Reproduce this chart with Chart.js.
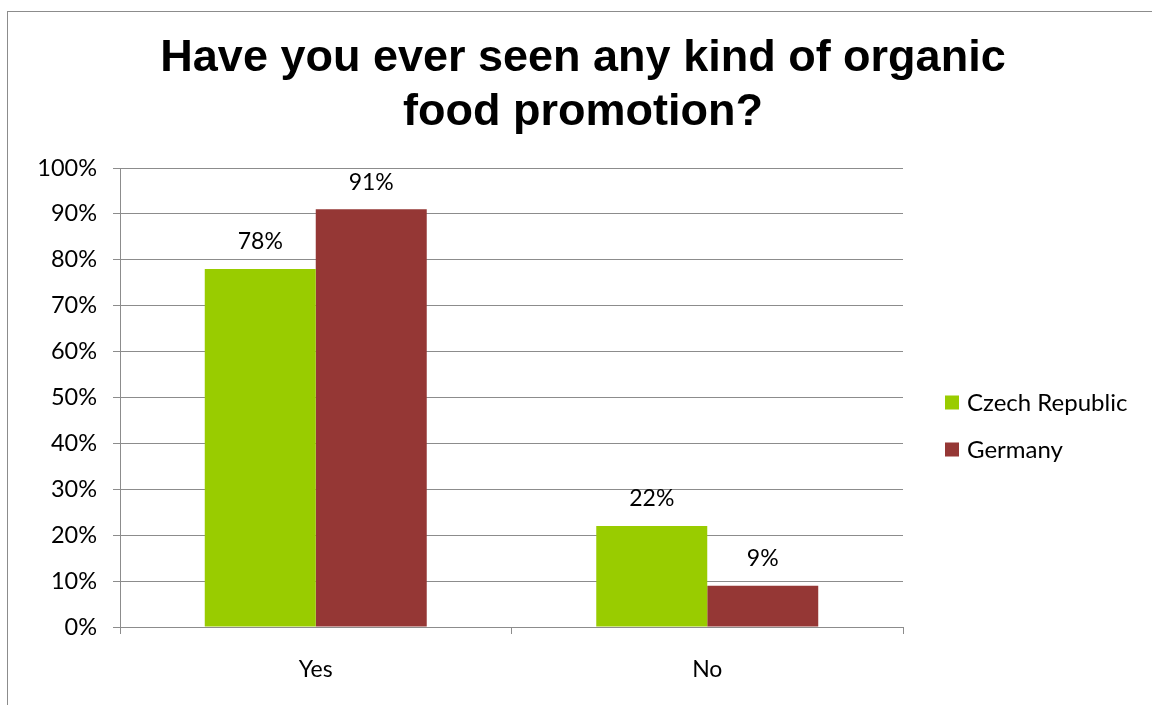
<!DOCTYPE html>
<html>
<head>
<meta charset="utf-8">
<script src="https://cdn.jsdelivr.net/npm/chart.js@4.4.1/dist/chart.umd.min.js"></script>
<style>
  html, body { margin: 0; padding: 0; background: #fff; overflow: hidden; width: 1152px; height: 705px; }
  #frame {
    position: absolute; left: 7px; top: 11px;
    width: 1160px; height: 710px;
    border: 1px solid #8c8c8c; box-sizing: border-box;
  }
  #wrap { position: absolute; left: 8px; top: 12px; width: 1150px; height: 700px; }
</style>
</head>
<body>
<div id="frame"></div>
<div id="wrap"><canvas id="promoChart" width="1150" height="700"></canvas></div>
<script>
const categories = ['Yes', 'No'];
const czechValues = [78, 22];
const germanyValues = [91, 9];
const seriesNames = ['Czech Republic', 'Germany'];
const seriesColors = ['#99cc00', '#953735'];
const titleLines = ['Have you ever seen any kind of organic', 'food promotion?'];

const labelFont = 'Lato';
const gridColor = '#8c8c8c';

// percent labels above each bar
const valueLabels = {
    id: 'valueLabels',
    afterDatasetsDraw(chart) {
        const ctx = chart.ctx;
        ctx.save();
        ctx.font = '23px ' + labelFont;
        ctx.fillStyle = '#000';
        ctx.textAlign = 'center';
        ctx.textBaseline = 'middle';
        chart.data.datasets.forEach((ds, i) => {
            chart.getDatasetMeta(i).data.forEach((bar, j) => {
                ctx.fillText(ds.data[j] + '%', bar.x, bar.y - 27);
            });
        });
        ctx.restore();
    }
};

// legend to the right of the plot
const sideLegend = {
    id: 'sideLegend',
    afterDraw(chart) {
        const ctx = chart.ctx;
        const x = 937;
        const midY = 414;
        const step = 47;
        ctx.save();
        ctx.font = '24px ' + labelFont;
        ctx.textBaseline = 'middle';
        chart.data.datasets.forEach((ds, i) => {
            const y = midY + (i - (chart.data.datasets.length - 1) / 2) * step;
            ctx.fillStyle = ds.backgroundColor;
            ctx.fillRect(x, y - 7, 14, 14);
            ctx.fillStyle = '#000';
            ctx.fillText(ds.label, x + 22, y + 1);
        });
        ctx.restore();
    }
};

new Chart(document.getElementById('promoChart'), {
    type: 'bar',
    data: {
        labels: categories,
        datasets: [
            { label: seriesNames[0], data: czechValues, backgroundColor: seriesColors[0] },
            { label: seriesNames[1], data: germanyValues, backgroundColor: seriesColors[1] }
        ]
    },
    options: {
        responsive: false,
        animation: false,
        devicePixelRatio: 1,
        layout: { padding: 0 },
        datasets: { bar: { categoryPercentage: 0.567, barPercentage: 1.0 } },
        scales: {
            x: {
                grid: { display: true, drawOnChartArea: false, offset: true, color: gridColor, tickLength: 7, tickColor: gridColor },
                border: { color: gridColor },
                ticks: { color: '#000', font: { family: labelFont, size: 23 }, padding: 22 },
                afterFit(scale) { scale.height = 85; }
            },
            y: {
                min: 0, max: 100,
                grid: { color: gridColor, tickLength: 7, tickColor: gridColor },
                border: { color: gridColor },
                ticks: {
                    stepSize: 10, color: '#000', padding: 16,
                    font: { family: labelFont, size: 23.5 },
                    callback: v => v + '%'
                },
                afterFit(scale) { scale.width = 112; }
            },
            // empty axis that keeps room for the legend on the right
            legendSpace: {
                position: 'right',
                display: true,
                grid: { display: false },
                border: { display: false },
                ticks: { display: false },
                afterFit(scale) { scale.width = 255; }
            }
        },
        plugins: {
            legend: { display: false },
            tooltip: { enabled: false },
            title: {
                display: true,
                text: titleLines,
                color: '#000',
                font: { family: 'Liberation Sans', size: 45, weight: 'bold', lineHeight: 1.2 },
                padding: { top: 20, bottom: 28 }
            }
        }
    },
    plugins: [valueLabels, sideLegend]
});
</script>
</body>
</html>
